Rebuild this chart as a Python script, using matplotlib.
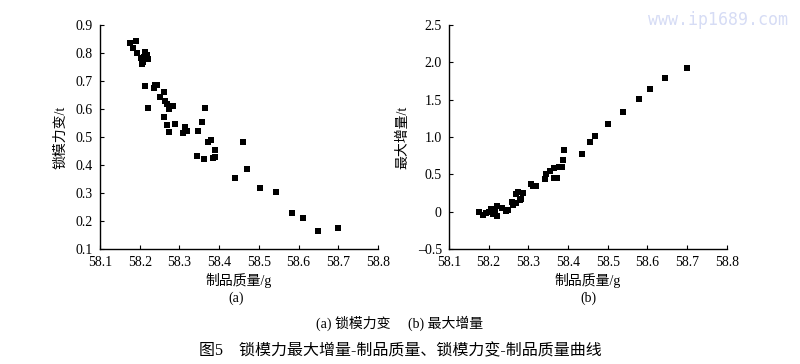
import matplotlib.pyplot as plt
import numpy as np

plt.rcParams['font.family'] = ['Liberation Serif', 'Noto Sans CJK SC']

# (a) 锁模力变
mass_a = np.array([
    58.175, 58.19, 58.183, 58.193, 58.2025, 58.207, 58.2125, 58.211, 58.218,
    58.221, 58.208, 58.214, 58.22, 58.235, 58.2375, 58.243, 58.25, 58.26,
    58.2625, 58.268, 58.273, 58.283, 58.26, 58.269, 58.275, 58.289, 58.314,
    58.318, 58.31, 58.346, 58.358, 58.365, 58.343, 58.3625, 58.373, 58.38,
    58.389, 58.385, 58.39, 58.44, 58.459, 58.47, 58.504, 58.543, 58.584,
    58.612, 58.649, 58.70
])
force_a = np.array([
    0.837, 0.843, 0.82, 0.799, 0.781, 0.76, 0.805, 0.787, 0.793,
    0.779, 0.769, 0.682, 0.603, 0.674, 0.685, 0.685, 0.642, 0.661,
    0.63, 0.617, 0.599, 0.612, 0.571, 0.543, 0.517, 0.547, 0.535,
    0.523, 0.516, 0.523, 0.554, 0.604, 0.431, 0.422, 0.484, 0.49,
    0.452, 0.424, 0.43, 0.354, 0.483, 0.386, 0.319, 0.302, 0.229,
    0.21, 0.164, 0.174
])

# (b) 最大增量
mass_b = np.array([
    58.175, 58.185, 58.193, 58.2, 58.206, 58.208, 58.2125, 58.217, 58.221,
    58.2225, 58.2125, 58.234, 58.243, 58.25, 58.26, 58.2625, 58.269, 58.27,
    58.275, 58.28, 58.283, 58.288, 58.308, 58.3125, 58.319, 58.3425, 58.346,
    58.356, 58.364, 58.364, 58.373, 58.377, 58.384, 58.388, 58.39, 58.436,
    58.455, 58.467, 58.5, 58.5375, 58.58, 58.607, 58.644, 58.70
])
incr_b = np.array([
    -0.01, -0.04, -0.02, 0.0, 0.03, 0.0, 0.01, -0.01, 0.08,
    -0.06, -0.03, 0.05, 0.01, 0.025, 0.13, 0.09, 0.12, 0.24,
    0.26, 0.16, 0.17, 0.25, 0.37, 0.34, 0.34, 0.44, 0.50,
    0.55, 0.58, 0.45, 0.45, 0.60, 0.60, 0.69, 0.82, 0.77,
    0.94, 1.02, 1.18, 1.33, 1.51, 1.64, 1.79, 1.93
])

x_ticks = [58.1, 58.2, 58.3, 58.4, 58.5, 58.6, 58.7, 58.8]
ya_ticks = [0.1, 0.2, 0.3, 0.4, 0.5, 0.6, 0.7, 0.8, 0.9]
yb_ticks = [-0.5, 0, 0.5, 1.0, 1.5, 2.0, 2.5]
yb_labels = ['\u20130.5', '0', '0.5', '1.0', '1.5', '2.0', '2.5']

fig = plt.figure(figsize=(8, 3.64), dpi=100)
ax1 = fig.add_axes([0.125, 0.316, 0.3475, 0.615])
ax2 = fig.add_axes([0.561, 0.316, 0.3475, 0.615])

for ax in (ax1, ax2):
    for s in ('top', 'right'):
        ax.spines[s].set_visible(False)
    ax.spines['left'].set_linewidth(1.0)
    ax.spines['bottom'].set_linewidth(1.0)
    ax.tick_params(direction='in', length=3, width=0.8, labelsize=10, pad=5)
    ax.set_xlim(58.1, 58.8)
    ax.set_xticks(x_ticks)
    ax.set_xticklabels([f'{v:.1f}' for v in x_ticks])

ax1.scatter(mass_a, force_a, marker='s', s=15, color='black', linewidths=0)
ax1.set_ylim(0.1, 0.9)
ax1.set_yticks(ya_ticks)
ax1.set_yticklabels([f'{v:.1f}' for v in ya_ticks])
ax1.set_xlabel('制品质量/g', fontsize=10, labelpad=3)
ax1.set_ylabel('锁模力变/t', fontsize=10, labelpad=6)

ax2.scatter(mass_b, incr_b, marker='s', s=15, color='black', linewidths=0)
ax2.set_ylim(-0.5, 2.5)
ax2.set_yticks(yb_ticks)
ax2.set_yticklabels(yb_labels)
ax2.set_xlabel('制品质量/g', fontsize=10, labelpad=3)
ax2.set_ylabel('最大增量/t', fontsize=10, labelpad=6)

fig.text(0.295, 0.18, '(a)', ha='center', va='center', fontsize=10)
fig.text(0.735, 0.18, '(b)', ha='center', va='center', fontsize=10)
fig.text(0.5, 0.112, '(a) 锁模力变     (b) 最大增量', ha='center', va='center', fontsize=10)
fig.text(0.5, 0.035, '图5    锁模力最大增量-制品质量、锁模力变-制品质量曲线',
         ha='center', va='center', fontsize=11.5)
fig.text(0.985, 0.945, 'www.ip1689.com', ha='right', va='center', fontsize=12,
         color='#d6dcf5', family='DejaVu Sans Mono')

fig.savefig('out.png', dpi=100)
